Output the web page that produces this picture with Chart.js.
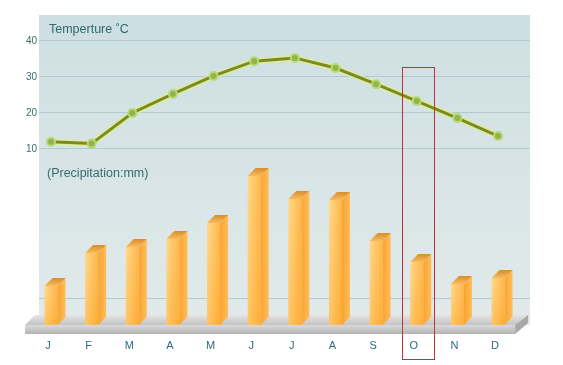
<!DOCTYPE html>
<html>
<head>
<meta charset="utf-8">
<script src="https://cdn.jsdelivr.net/npm/chart.js@4/dist/chart.umd.min.js"></script>
<style>
  html, body { margin: 0; padding: 0; background: #fff; }
  #wrap { width: 563px; height: 365px; }
</style>
</head>
<body>
<div id="wrap"><canvas id="myChart" width="563" height="365"></canvas></div>
<script>
const months = ["J", "F", "M", "A", "M", "J", "J", "A", "S", "O", "N", "D"];
const temperature = [12, 11.5, 20, 25.3, 30.3, 34.4, 35.3, 32.5, 28, 23.3, 18.6, 13.6];
const precipitation = [39, 72, 78, 86, 102, 149, 126, 125, 84, 63, 41, 47];
const tempTicks = [-31.4, 10, 20, 30, 40];
const highlight = 9; // October box

const font = "'Liberation Sans', Arial, sans-serif";

// panel, floor, 3d bars, texts, highlight box
const deco = {
  id: "deco",
  beforeDraw(chart) {
    const { ctx, chartArea: a } = chart;
    const g = ctx.createLinearGradient(0, a.top, 0, a.bottom);
    g.addColorStop(0, "#cddfe2");
    g.addColorStop(1, "#e2eaea");
    ctx.save();
    ctx.fillStyle = g;
    ctx.fillRect(a.left, a.top, a.right - a.left, a.bottom - a.top);
    ctx.restore();
  },
  beforeDatasetsDraw(chart) {
    const { ctx, chartArea: a } = chart;
    const x = chart.scales.x;
    const l = x.getPixelForValue(-0.64);
    const r = x.getPixelForValue(11.42);
    const b = a.bottom;
    ctx.save();
    // top face
    let g = ctx.createLinearGradient(0, b - 10, 0, b);
    g.addColorStop(0, "#e4e4e4");
    g.addColorStop(1, "#c3c3c3");
    ctx.fillStyle = g;
    ctx.beginPath();
    ctx.moveTo(l, b);
    ctx.lineTo(l + 10, b - 10);
    ctx.lineTo(r + 13, b - 10);
    ctx.lineTo(r, b);
    ctx.closePath();
    ctx.fill();
    // front face
    g = ctx.createLinearGradient(0, b, 0, b + 9);
    g.addColorStop(0, "#dadada");
    g.addColorStop(1, "#b4b4b4");
    ctx.fillStyle = g;
    ctx.fillRect(l, b, r - l, 9);
    // right side
    ctx.fillStyle = "#a8a8a8";
    ctx.beginPath();
    ctx.moveTo(r, b);
    ctx.lineTo(r + 13, b - 10);
    ctx.lineTo(r + 13, b - 2);
    ctx.lineTo(r, b + 9);
    ctx.closePath();
    ctx.fill();
    ctx.restore();
  },
  afterDatasetDraw(chart, args) {
    if (args.meta.type !== "bar") return;
    const ctx = chart.ctx;
    const w = 13, d = 8;
    ctx.save();
    args.meta.data.forEach((el) => {
      const { x, y, base } = el;
      const L = x - w / 2, R = x + w / 2;
      // front
      let g = ctx.createLinearGradient(L, 0, R, 0);
      g.addColorStop(0, "#ffd98c");
      g.addColorStop(1, "#ffb64a");
      ctx.fillStyle = g;
      ctx.fillRect(L, y, w, base - y);
      g = ctx.createLinearGradient(0, y, 0, base);
      g.addColorStop(0, "rgba(255,160,20,0)");
      g.addColorStop(1, "rgba(255,150,10,0.3)");
      ctx.fillStyle = g;
      ctx.fillRect(L, y, w, base - y);
      // side
      g = ctx.createLinearGradient(R, 0, R + d, 0);
      g.addColorStop(0, "#f9a431");
      g.addColorStop(1, "#ffbd58");
      ctx.fillStyle = g;
      ctx.beginPath();
      ctx.moveTo(R, y);
      ctx.lineTo(R + d, y - d);
      ctx.lineTo(R + d, base - d);
      ctx.lineTo(R, base);
      ctx.closePath();
      ctx.fill();
      // top
      g = ctx.createLinearGradient(0, y - d, 0, y);
      g.addColorStop(0, "#d88d2a");
      g.addColorStop(1, "#f7bc5c");
      ctx.fillStyle = g;
      ctx.beginPath();
      ctx.moveTo(L, y);
      ctx.lineTo(L + d, y - d);
      ctx.lineTo(R + d, y - d);
      ctx.lineTo(R, y);
      ctx.closePath();
      ctx.fill();
    });
    ctx.restore();
  },
  afterDraw(chart) {
    const { ctx, chartArea: a } = chart;
    ctx.save();
    ctx.textBaseline = "middle";
    ctx.fillStyle = "#2f6a6e";
    ctx.font = "12.5px " + font;
    ctx.fillText("Temperture \u02DAC", a.left + 10, a.top + 15);
    ctx.fillStyle = "#3a6b70";
    ctx.fillText("(Precipitation:mm)", a.left + 8, a.top + 159);
    // highlight box
    const cx = chart.scales.x.getPixelForValue(highlight);
    const py = chart.scales.y.getPixelForValue(temperature[highlight]);
    ctx.strokeStyle = "#c0303a";
    ctx.lineWidth = 1;
    ctx.strokeRect(Math.round(cx - 15) + 0.5, Math.round(py - 34) + 0.5, 32, chart.height - 6 - Math.round(py - 34));
    ctx.restore();
  },
};

new Chart(document.getElementById("myChart"), {
  data: {
    datasets: [
      {
        type: "line",
        data: temperature.map((v, i) => ({ x: i, y: v })),
        borderColor: "#7d8a24",
        borderWidth: 3,
        pointRadius: 4,
        pointBackgroundColor: "#93b44a",
        pointBorderColor: "#b8d777",
        pointBorderWidth: 2,
        yAxisID: "y",
        order: 0,
      },
      {
        type: "line",
        data: temperature.map((v, i) => ({ x: i, y: v })),
        borderColor: "rgba(222,240,140,0.85)",
        borderWidth: 6,
        pointRadius: 0,
        yAxisID: "y",
        order: 1,
      },
      {
        type: "bar",
        data: precipitation.map((v, i) => ({ x: i, y: v })),
        backgroundColor: "rgba(0,0,0,0)",
        borderWidth: 0,
        barThickness: 13,
        yAxisID: "y2",
        order: 2,
      },
    ],
  },
  options: {
    responsive: false,
    animation: false,
    layout: { padding: { top: 15, right: 33, left: 0, bottom: 0 } },
    plugins: { legend: { display: false }, tooltip: { enabled: false } },
    scales: {
      x: {
        type: "linear",
        offset: false,
        min: -0.295,
        max: 11.786,
        afterBuildTicks: (s) => { s.ticks = months.map((m, i) => ({ value: i })); },
        afterFit: (s) => { s.height = 40; },
        grid: { display: false, drawTicks: false, offset: false },
        border: { display: false },
        ticks: {
          callback: (v) => months[v],
          labelOffset: -3,
          padding: 14,
          color: "#2d6a80",
          font: { family: font, size: 11 },
          autoSkip: false,
          maxRotation: 0,
        },
      },
      y: {
        position: "left",
        min: -38.89,
        max: 47.22,
        afterBuildTicks: (s) => { s.ticks = tempTicks.map((v) => ({ value: v })); },
        afterFit: (s) => { s.width = 39; },
        grid: { color: "#b3cacd", drawTicks: false },
        border: { display: false },
        ticks: {
          callback: (v) => (v > 0 ? v : ""),
          padding: 2,
          color: "#3b6b6f",
          font: { family: font, size: 10 },
        },
      },
      y2: {
        display: false,
        min: 0,
        max: 310,
      },
    },
  },
  plugins: [deco],
});
</script>
</body>
</html>
